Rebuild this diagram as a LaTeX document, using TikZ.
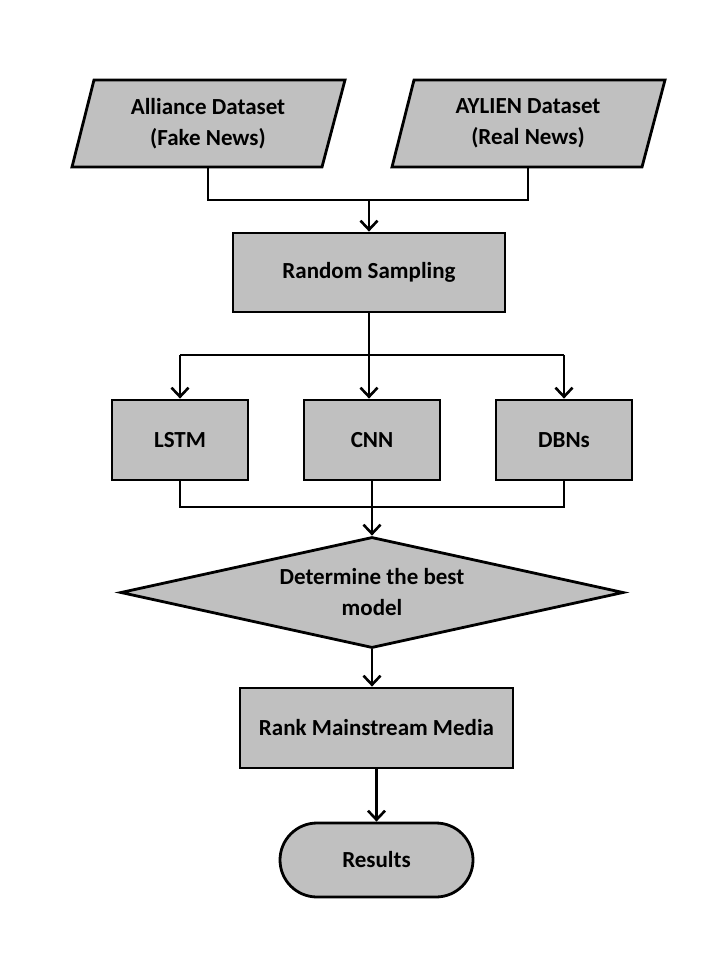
\documentclass[tikz,border=0pt]{standalone}
\usepackage{fontspec}
\setmainfont{Carlito}
\usetikzlibrary{shapes.geometric,arrows.meta}
\definecolor{boxgray}{HTML}{C0C0C0}
\tikzset{
  x=1pt, y=-1pt,
  lbl/.style={font=\bfseries\fontsize{23}{31}\selectfont, align=center, inner sep=0pt},
  box/.style={lbl, draw=black, fill=boxgray, line width=2.8pt, rectangle},
  para/.style={draw=black, fill=boxgray, line width=2.8pt, line join=miter},
  conn/.style={draw=black, line width=2.6pt},
  arr/.style={conn, -{Straight Barb[length=9pt,width=17pt,line width=2.6pt]}},
}
\begin{document}
\begin{tikzpicture}
\useasboundingbox (0,0) rectangle (720,960);
% input parallelograms
\draw[para] (94,80) -- (345,80) -- (322,167) -- (72,167) -- cycle;
\node[lbl, minimum width=200pt, minimum height=87pt] (alliance) at (208,123.5) {\raisebox{-2pt}{\parbox{200pt}{\centering Alliance Dataset\\(Fake News)}}};
\draw[para] (414,80) -- (665,80) -- (642,167) -- (392,167) -- cycle;
\node[lbl, minimum width=200pt, minimum height=87pt] (aylien) at (528,123.5) {\raisebox{-2pt}{\parbox{200pt}{\centering AYLIEN Dataset\\(Real News)}}};
% process boxes
\node[box, minimum width=272pt, minimum height=79pt] (rs) at (369,272.5) {Random Sampling};
\node[box, minimum width=136pt, minimum height=80pt] (lstm) at (180,440) {LSTM};
\node[box, minimum width=136pt, minimum height=80pt] (cnn) at (372,440) {CNN};
\node[box, minimum width=136pt, minimum height=80pt] (dbn) at (564,440) {DBNs};
\node[lbl, diamond, draw=black, fill=boxgray, line width=2.8pt, aspect=4.53, minimum width=503pt, minimum height=111pt] (best) at (372,592.5) {Determine the best\\model};
\node[box, minimum width=273pt, minimum height=80pt] (rank) at (376.5,728) {Rank Mainstream Media};
\node[box, minimum width=193pt, minimum height=74pt, rounded corners=37pt] (res) at (376.5,860) {Results};
% connectors
\coordinate (j1) at (369,200);
\draw[conn] (alliance.south) |- (j1);
\draw[conn] (aylien.south) |- (j1);
\draw[arr] (j1) -- (rs.north);
\coordinate (j2) at (369,355);
\draw[conn] (rs.south) -- (j2);
\draw[conn] (lstm.north |- j2) -- (dbn.north |- j2);
\draw[arr] (j2) -- (j2 |- cnn.north);
\draw[arr] (lstm.north |- j2) -- (lstm.north);
\draw[arr] (dbn.north |- j2) -- (dbn.north);
\coordinate (j3) at (372,507);
\draw[conn] (lstm.south) |- (j3);
\draw[conn] (dbn.south) |- (j3);
\draw[arr] (cnn.south) -- (best.north);
\draw[arr] (best.south) -- (best.south |- rank.north);
\draw[arr] (rank.south) -- (res.north);
\end{tikzpicture}
\end{document}
